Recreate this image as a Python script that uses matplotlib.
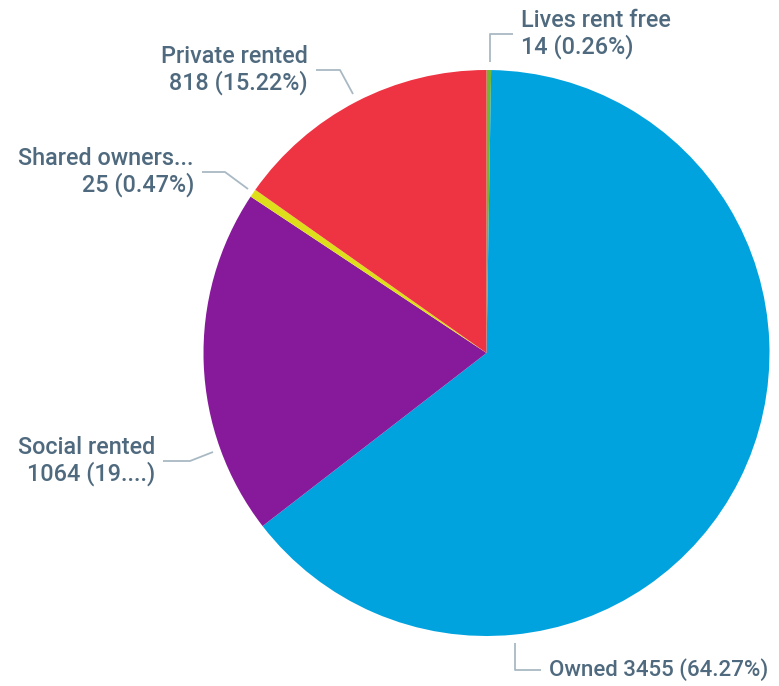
import matplotlib
matplotlib.use("Agg")
import matplotlib.pyplot as plt

categories = ["Lives rent free", "Owned", "Social rented", "Shared ownership", "Private rented"]
values = [14, 3455, 1064, 25, 818]
label_texts = ["Lives rent free\n14 (0.26%)", "Owned 3455 (64.27%)", "Social rented\n1064 (19....)",
               "Shared owners...\n25 (0.47%)", "Private rented\n818 (15.22%)"]
colors = ["#73B52E", "#01A3DF", "#861A9A", "#DFDE1B", "#EE3342"]

W, H = 779, 686
cx, cy, r = 486.5, 353, 283


def px(x, y):
    """layout helper: figure pixel -> pie data units (radius 1)"""
    return ((x - cx) / r, (cy - y) / r)


# leader line layout: anchor, elbow, end (pixels), text side
leaders = [
    ((490, 62), (490, 34), (513, 34), "left"),
    ((515, 643), (515, 670), (541, 670), "left"),
    ((213, 452), (190, 461), (163, 461), "right"),
    ((248, 189), (225, 172), (202, 172), "right"),
    ((353, 94), (340, 70), (316, 70), "right"),
]

fig = plt.figure(figsize=(W / 100, H / 100), dpi=100)
ax = fig.add_axes([(cx - r) / W, (H - cy - r) / H, 2 * r / W, 2 * r / H])
ax.pie(values, colors=colors, startangle=90, counterclock=False, radius=1,
       wedgeprops=dict(linewidth=0))
ax.set_xlim(-1, 1)
ax.set_ylim(-1, 1)
ax.set_aspect("auto")
ax.axis("off")

text_color = "#4F6A7E"
line_color = "#A9B9C4"
for txt, (a, e, end, side) in zip(label_texts, leaders):
    pts = [px(*a), px(*e), px(*end)]
    ax.plot([p[0] for p in pts], [p[1] for p in pts], color=line_color, lw=1.3,
            clip_on=False, solid_capstyle="butt")
    gap = 8 / r
    ex, ey = pts[2]
    tx = ex + gap if side == "left" else ex - gap
    fs = 16 if txt.startswith("Owned") else 16.8
    ax.text(tx, ey, txt, ha=side, va="center", multialignment=side,
            fontsize=fs, color=text_color, family="Roboto", weight="medium",
            linespacing=1.12, clip_on=False)

fig.savefig("out.png", dpi=100)
